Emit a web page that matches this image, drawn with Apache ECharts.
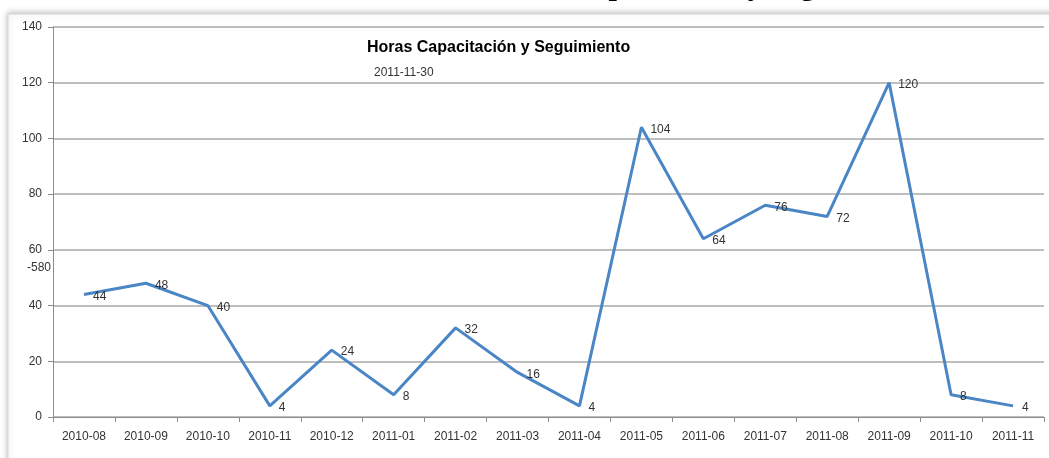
<!DOCTYPE html>
<html>
<head>
<meta charset="utf-8">
<script src="https://cdn.jsdelivr.net/npm/echarts@6/dist/echarts.min.js"></script>
<style>
  html, body { margin: 0; padding: 0; background: #fff; }
  #chart { width: 1049px; height: 458px; }
</style>
</head>
<body>
<div id="chart"></div>
<script>
const months = [
  "2010-08", "2010-09", "2010-10", "2010-11", "2010-12", "2011-01", "2011-02", "2011-03",
  "2011-04", "2011-05", "2011-06", "2011-07", "2011-08", "2011-09", "2011-10", "2011-11",
];
const hours = [44, 48, 40, 4, 24, 8, 32, 16, 4, 104, 64, 76, 72, 120, 8, 4];

const TEXT_FONT = "'Liberation Sans', Arial, sans-serif";

const chart = echarts.init(document.getElementById("chart"));

chart.setOption({
  animation: false,
  backgroundColor: "#fff",
  graphic: [
    // panel frame with soft shadow
    {
      type: "rect",
      z: -10,
      shape: { x: 8, y: 14, width: 1050, height: 460 },
      style: {
        fill: "#fff",
        stroke: "#d6d6d6",
        lineWidth: 1,
        shadowBlur: 6,
        shadowColor: "rgba(0,0,0,0.25)",
        shadowOffsetY: -1,
      },
    },
    // page heading cut off at the top
    {
      type: "text",
      z: -20,
      left: 486,
      top: -28,
      style: {
        text: "Horas Capacitación y Seguimiento",
        font: "bold 30px 'Liberation Serif', 'Times New Roman', serif",
        fill: "#000",
      },
    },
    {
      type: "text",
      left: 367,
      top: 40,
      style: {
        text: "Horas Capacitación y Seguimiento",
        font: "bold 16px " + TEXT_FONT,
        fill: "#000",
      },
    },
    {
      type: "text",
      left: 374,
      top: 67,
      style: {
        text: "2011-11-30",
        font: "12px " + TEXT_FONT,
        fill: "#333",
      },
    },
    {
      type: "text",
      left: 27,
      top: 262,
      style: {
        text: "-580",
        font: "12px " + TEXT_FONT,
        fill: "#333",
      },
    },
  ],
  grid: {
    left: 53,
    right: 5,
    top: 27,
    bottom: 41,
  },
  xAxis: {
    type: "category",
    data: months,
    boundaryGap: true,
    axisLine: { lineStyle: { color: "#8c8c8c", width: 1 } },
    axisTick: { show: true, length: 5, lineStyle: { color: "#8c8c8c" } },
    axisLabel: {
      color: "#333",
      fontSize: 12,
      fontFamily: TEXT_FONT,
      margin: 14,
    },
    splitLine: { show: false },
  },
  yAxis: {
    type: "value",
    min: 0,
    max: 140,
    interval: 20,
    axisLine: { show: true, lineStyle: { color: "#8c8c8c", width: 1 } },
    axisTick: { show: true, length: 5, lineStyle: { color: "#8c8c8c" } },
    axisLabel: {
      color: "#333",
      fontSize: 12,
      fontFamily: TEXT_FONT,
      margin: 11,
    },
    splitLine: { show: true, lineStyle: { color: "#a8a8a8", width: 1.5 } },
  },
  series: [
    {
      name: "Horas",
      type: "line",
      data: hours,
      showSymbol: true,
      symbol: "circle",
      symbolSize: 2,
      itemStyle: { color: "rgba(74,134,198,0)", borderWidth: 0 },
      lineStyle: { color: "#4a86c6", width: 3 },
      label: {
        show: true,
        position: "right",
        distance: 8,
        offset: [0, 2],
        color: "#333",
        fontSize: 12,
        fontFamily: TEXT_FONT,
      },
    },
  ],
});
</script>
</body>
</html>
